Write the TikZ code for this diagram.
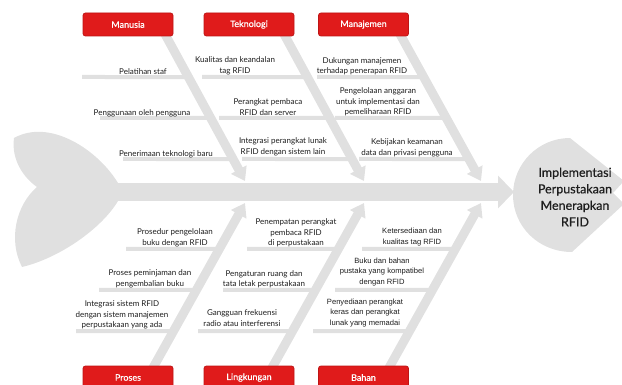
\documentclass[tikz,border=0pt]{standalone}
\usepackage{fontspec}
\setmainfont{Lato}
\newfontfamily\arialfont{Liberation Sans}
\newfontfamily\latoheavy[FakeBold=0.5]{Lato}
\usetikzlibrary{arrows.meta,calc}

\definecolor{bonegray}{HTML}{E0E0E0}
\definecolor{catred}{HTML}{E01B1B}
\definecolor{catedge}{HTML}{BE1515}
\definecolor{inktext}{HTML}{1E1E1E}

\pgfdeclarelayer{bg}
\pgfsetlayers{bg,main}

\begin{document}
\begin{tikzpicture}[x=1pt,y=-1pt,
  cat/.style={draw=catedge, line width=0.8pt, fill=catred, rounded corners=2.5pt,
    minimum width=90pt, minimum height=23pt, inner sep=0pt, text=white,
    font=\latoheavy\fontsize{9}{11}\selectfont},
  bone/.style={draw=bonegray, line width=9pt, -{Triangle[width=17pt,length=13pt]}},
  spine/.style={draw=bonegray, line width=18pt, -{Triangle[width=32pt,length=16pt]}},
  twig/.style={draw=bonegray, line width=4pt},
  cause/.style={align=center, inner sep=0pt, text=inktext, font=\fontsize{8}{10.5}\selectfont},
  causeb/.style={cause, font=\arialfont\fontsize{7.6}{10.3}\selectfont},
  effect/.style={align=center, inner sep=0pt, text=inktext, font=\latoheavy\fontsize{12.5}{16.5}\selectfont},
]
\useasboundingbox (0,0) rectangle (622,385);

% tail of the fish
\fill[bonegray] (118,183) .. controls (98,150) and (50,118) .. (14,138)
  .. controls (11,160) and (24,178) .. (37,187)
  .. controls (16,205) and (8,240) .. (22,267)
  .. controls (60,258) and (102,228) .. (118,201) -- cycle;

% head of the fish
\fill[bonegray] (570,138) -- (624,181) -- (613,193) -- (624,204) -- (572,252)
  .. controls (538.5,252) and (513,226.5) .. (513,195)
  .. controls (513,163.5) and (538.5,138) .. (570,138) -- cycle;
\node[effect] (res) at (575,197) {Implementasi\\Perpustakaan\\Menerapkan\\RFID};

% spine
\coordinate (tailJ) at (110,192);
\coordinate (spTip) at (514,192);
\draw[spine] (tailJ) -- (spTip);

% category boxes
\node[cat] (man) at (128,24.5) {Manusia};
\node[cat] (tek) at (249,24.5) {Teknologi};
\node[cat] (mjm) at (363.5,24.5) {Manajemen};
\node[cat] (pro) at (128,377.5) {Proses};
\node[cat] (lin) at (249,377.5) {Lingkungan};
\node[cat] (bah) at (363.5,377.5) {Bahan};

% bone lines (start at box edge, end on the spine)
\coordinate (manA) at (166,36);  \coordinate (manB) at (245,181);
\coordinate (tekA) at (285,36);  \coordinate (tekB) at (364,181);
\coordinate (mjmA) at (401,36);  \coordinate (mjmB) at (481,181);
\coordinate (proA) at (154,366); \coordinate (proB) at (245,203);
\coordinate (linA) at (273,366); \coordinate (linB) at (364,203);
\coordinate (bahA) at (390,366); \coordinate (bahB) at (481,203);

\begin{pgfonlayer}{bg}
\foreach \b in {man,tek,mjm,pro,lin,bah}{
  \draw[bone] ($(\b A)!-0.05!(\b B)$) -- (\b B);
}
% sub-cause lines, top half
\draw[twig] (82,77)  -- ($(manA)!0.2828!(manB)$);
\draw[twig] (100,118) -- ($(manA)!0.5655!(manB)$);
\draw[twig] (123,159) -- ($(manA)!0.8483!(manB)$);
\draw[twig] (202,77)  -- ($(tekA)!0.2828!(tekB)$);
\draw[twig] (219,118) -- ($(tekA)!0.5655!(tekB)$);
\draw[twig] (242,159) -- ($(tekA)!0.8483!(tekB)$);
\draw[twig] (317,77)  -- ($(mjmA)!0.2828!(mjmB)$);
\draw[twig] (335,118) -- ($(mjmA)!0.5655!(mjmB)$);
\draw[twig] (359,159) -- ($(mjmA)!0.8483!(mjmB)$);
% sub-cause lines, bottom half
\draw[twig] (126,249) -- ($(proA)!0.7178!(proB)$);
\draw[twig] (99,290)  -- ($(proA)!0.4663!(proB)$);
\draw[twig] (76,331)  -- ($(proA)!0.2147!(proB)$);
\draw[twig] (247,249) -- ($(linA)!0.7178!(linB)$);
\draw[twig] (223,290) -- ($(linA)!0.4663!(linB)$);
\draw[twig] (198,331) -- ($(linA)!0.2147!(linB)$);
\draw[twig] (362,249) -- ($(bahA)!0.7178!(bahB)$);
\draw[twig] (335,290) -- ($(bahA)!0.4663!(bahB)$);
\draw[twig] (313,331) -- ($(bahA)!0.2147!(bahB)$);
\end{pgfonlayer}

% cause labels
\node[cause] (m1) at (143,72)  {Pelatihan staf};
\node[cause] (m2) at (142,113) {Penggunaan oleh pengguna};
\node[cause] (m3) at (166,154) {Penerimaan teknologi baru};
\node[cause] (k1) at (235,66)  {Kualitas dan keandalan\\tag RFID};
\node[cause] (k2) at (268,107) {Perangkat pembaca\\RFID dan server};
\node[cause] (k3) at (283,147) {Integrasi perangkat lunak\\RFID dengan sistem lain};
\node[cause] (j1) at (362,66)  {Dukungan manajemen\\terhadap penerapan RFID};
\node[cause] (j2) at (378,102) {Pengelolaan anggaran\\untuk implementasi dan\\pemeliharaan RFID};
\node[cause] (j3) at (407,148) {Kebijakan keamanan\\data dan privasi pengguna};

\node[cause] (p1) at (175,238) {Prosedur pengelolaan\\buku dengan RFID};
\node[cause] (p2) at (150,279) {Proses peminjaman dan\\pengembalian buku};
\node[cause] (p3) at (122,315) {Integrasi sistem RFID\\dengan sistem manajemen\\perpustakaan yang ada};
\node[cause] (l1) at (296,233) {Penempatan perangkat\\pembaca RFID\\di perpustakaan};
\node[cause] (l2) at (264,279) {Pengaturan ruang dan\\tata letak perpustakaan};
\node[cause] (l3) at (242,318) {Gangguan frekuensi\\radio atau interferensi};
\node[causeb] (h1) at (412,237) {Ketersediaan dan\\kualitas tag RFID};
\node[causeb] (h2) at (382,272) {Buku dan bahan\\pustaka yang kompatibel\\dengan RFID};
\node[causeb] (h3) at (365,313) {Penyediaan perangkat\\keras dan perangkat\\lunak yang memadai};
\end{tikzpicture}
\end{document}
